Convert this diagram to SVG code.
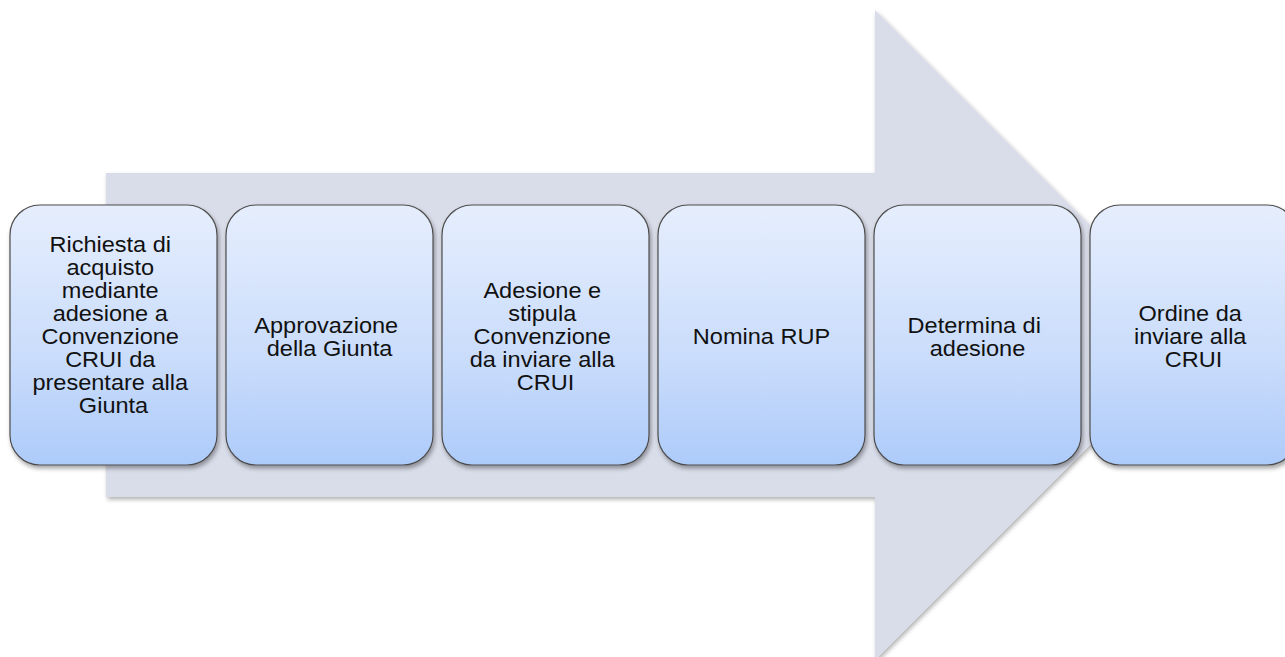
<svg xmlns="http://www.w3.org/2000/svg" width="1285" height="657" viewBox="0 0 1285 657">
  <defs>
    <linearGradient id="boxGrad" x1="0" y1="0" x2="0" y2="1">
      <stop offset="0" stop-color="#e6eefd"/>
      <stop offset="0.6" stop-color="#c9dcfb"/>
      <stop offset="1" stop-color="#adcbfa"/>
    </linearGradient>
    <filter id="shadow" x="-10%" y="-10%" width="120%" height="125%">
      <feDropShadow dx="1.5" dy="3" stdDeviation="2" flood-color="#000" flood-opacity="0.35"/>
    </filter>
    <filter id="arrowShadow" x="-5%" y="-5%" width="110%" height="110%">
      <feDropShadow dx="1.5" dy="2.5" stdDeviation="2" flood-color="#000" flood-opacity="0.3"/>
    </filter>
  </defs>
  <style>
    .box { fill: url(#boxGrad); stroke: #4d4d4d; stroke-width: 1.2; filter: url(#shadow); }
    .lbl { font-family: "Liberation Sans", Arial, sans-serif; font-size: 22px; fill: #111; text-anchor: middle; }
  </style>
  <rect width="1285" height="657" fill="#ffffff"/>
  <g id="connectors">
    <polygon points="106,173 875,173 875,10 1200,335 875,660 875,497 106,497" fill="#d9dde9" filter="url(#arrowShadow)"/>
  </g>
  <g id="node1">
    <rect class="box" x="10" y="205" width="207" height="260" rx="30" ry="30"/>
    <text class="lbl" transform="translate(113.5 0) scale(1.07 1)">
      <tspan x="0" y="252">Richiesta di</tspan>
      <tspan x="0" y="275">acquisto</tspan>
      <tspan x="0" y="298">mediante</tspan>
      <tspan x="0" y="321">adesione a</tspan>
      <tspan x="0" y="344">Convenzione</tspan>
      <tspan x="0" y="367">CRUI da</tspan>
      <tspan x="0" y="390">presentare alla</tspan>
      <tspan x="0" y="413">Giunta</tspan>
    </text>
  </g>
  <g id="node2">
    <rect class="box" x="226" y="205" width="207" height="260" rx="30" ry="30"/>
    <text class="lbl" transform="translate(329.5 0) scale(1.07 1)">
      <tspan x="0" y="333">Approvazione</tspan>
      <tspan x="0" y="356">della Giunta</tspan>
    </text>
  </g>
  <g id="node3">
    <rect class="box" x="442" y="205" width="207" height="260" rx="30" ry="30"/>
    <text class="lbl" transform="translate(545.5 0) scale(1.07 1)">
      <tspan x="0" y="298">Adesione e</tspan>
      <tspan x="0" y="321">stipula</tspan>
      <tspan x="0" y="344">Convenzione</tspan>
      <tspan x="0" y="367">da inviare alla</tspan>
      <tspan x="0" y="390">CRUI</tspan>
    </text>
  </g>
  <g id="node4">
    <rect class="box" x="658" y="205" width="207" height="260" rx="30" ry="30"/>
    <text class="lbl" transform="translate(761.5 0) scale(1.07 1)">
      <tspan x="0" y="344">Nomina RUP</tspan>
    </text>
  </g>
  <g id="node5">
    <rect class="box" x="874" y="205" width="207" height="260" rx="30" ry="30"/>
    <text class="lbl" transform="translate(977.5 0) scale(1.07 1)">
      <tspan x="0" y="333">Determina di</tspan>
      <tspan x="0" y="356">adesione</tspan>
    </text>
  </g>
  <g id="node6">
    <rect class="box" x="1090" y="205" width="207" height="260" rx="30" ry="30"/>
    <text class="lbl" transform="translate(1193.5 0) scale(1.07 1)">
      <tspan x="0" y="321">Ordine da</tspan>
      <tspan x="0" y="344">inviare alla</tspan>
      <tspan x="0" y="367">CRUI</tspan>
    </text>
  </g>
</svg>
